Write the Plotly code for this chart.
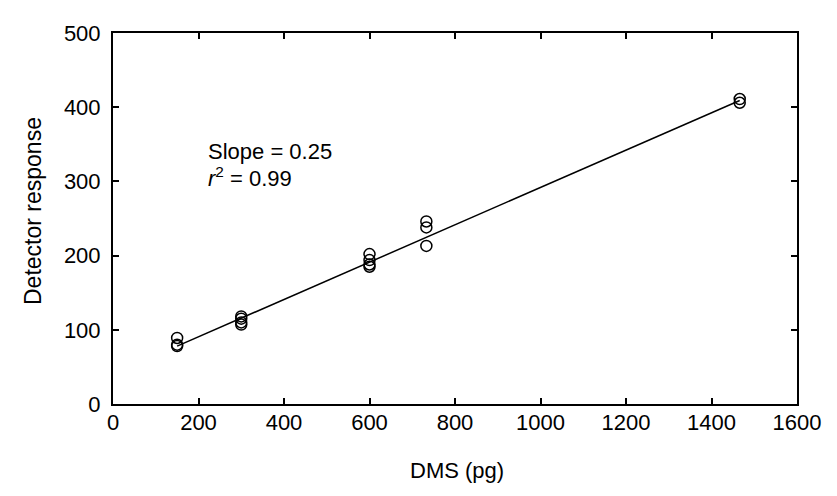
import plotly.graph_objects as go

# ---------------------------------------------------------------------------
# Data: calibration of detector response vs DMS mass
# ---------------------------------------------------------------------------
dms_pg = [150, 150, 150,
          300, 300, 300, 300,
          600, 600, 600, 600,
          733, 733, 733,
          1466, 1466]
response = [89, 80, 78,
            118, 115, 110, 107,
            202, 194, 188, 185,
            246, 238, 213,
            411, 406]

# fitted line (slope = 0.25, r^2 = 0.99)
fit_x = [150, 1466]
fit_y = [78, 409]

x_ticks = [0, 200, 400, 600, 800, 1000, 1200, 1400, 1600]
y_ticks = [0, 100, 200, 300, 400, 500]

FONT = "Liberation Sans, Arial, Helvetica, sans-serif"

# page pixels (the html body adds an 8px margin)
OFF = 8
W, H = 837, 496
L, R, T, B = 113 - OFF, 837 - 797 + OFF, 33 - OFF, 496 - 404 + OFF
pw, ph = W - L - R, H - T - B


def px(xp):
    return (xp - OFF - L) / pw


def py(yp):
    return 1 - (yp - OFF - T) / ph


fig = go.Figure()
fig.add_trace(go.Scatter(
    x=fit_x, y=fit_y, mode="lines",
    line=dict(color="black", width=1.5),
    showlegend=False,
))
fig.add_trace(go.Scatter(
    x=dms_pg, y=response, mode="markers",
    marker=dict(symbol="circle-open", size=11, color="black",
                line=dict(color="black", width=1.5)),
    showlegend=False,
))

axis_common = dict(
    showline=True, linecolor="black", linewidth=2,
    mirror="ticks", ticks="inside", ticklen=6, tickwidth=2, tickcolor="black",
    showgrid=False, zeroline=False,
    tickfont=dict(family=FONT, size=22, color="black"),
)

fig.update_xaxes(range=[0, 1600], tickvals=x_ticks, ticklabelstandoff=-2, **axis_common)
fig.update_yaxes(range=[0, 500], tickvals=y_ticks, ticklabelstandoff=6, **axis_common)

# text inside the plot
fig.add_annotation(
    x=px(206), y=py(151), xref="paper", yref="paper",
    xanchor="left", yanchor="middle", showarrow=False,
    text="Slope = 0.25", font=dict(family=FONT, size=22, color="black"),
)
fig.add_annotation(
    x=px(206), y=py(177), xref="paper", yref="paper",
    xanchor="left", yanchor="middle", showarrow=False,
    text="<i>r</i><sup>2</sup> = 0.99", font=dict(family=FONT, size=22, color="black"),
)

# axis titles
fig.add_annotation(
    x=px(457), y=py(470), xref="paper", yref="paper",
    text="DMS (pg)", showarrow=False, xanchor="center", yanchor="middle",
    font=dict(family=FONT, size=22, color="black"),
)
fig.add_annotation(
    x=px(33), y=py(211), xref="paper", yref="paper",
    text="Detector response", showarrow=False, textangle=-90,
    xanchor="center", yanchor="middle",
    font=dict(family=FONT, size=23, color="black"),
)

fig.update_layout(
    width=W, height=H,
    margin=dict(l=L, r=R, t=T, b=B),
    plot_bgcolor="white", paper_bgcolor="white",
)

fig.write_html("out.html")
